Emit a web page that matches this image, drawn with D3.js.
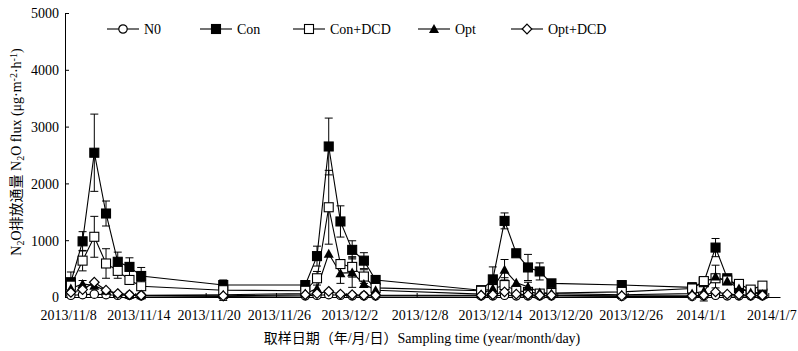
<!DOCTYPE html>
<html lang="zh">
<head>
<meta charset="utf-8">
<title>N2O flux</title>
<script src="https://d3js.org/d3.v7.min.js"></script>
<style>
  body { margin: 0; background: #fff; }
  text { font-family: "Times New Roman", "Liberation Serif", "Noto Sans CJK SC", serif; font-size: 14px; fill: #000; }
</style>
</head>
<body>
<div id="chart"></div>
<script>
// sampling dates
var dates = ["2013/11/8","2013/11/9","2013/11/10","2013/11/11","2013/11/12","2013/11/13","2013/11/14",
  "2013/11/21",
  "2013/11/28","2013/11/29","2013/11/30","2013/12/1","2013/12/2","2013/12/3","2013/12/4",
  "2013/12/13","2013/12/14","2013/12/15","2013/12/16","2013/12/17","2013/12/18","2013/12/19",
  "2013/12/25",
  "2013/12/31","2014/1/1","2014/1/2","2014/1/3","2014/1/4","2014/1/5","2014/1/6"];

// N2O flux per treatment (ug m-2 h-1)
var n0      = [30,40,50,40,30,30,20, 10, 20,30,40,30,20,20,20, 20,20,30,20,20,20,20, 10, 10,20,30,20,20,20,20];
var con     = [260,980,2540,1470,620,530,370, 210, 210,720,2650,1330,830,640,300, 120,310,1340,770,520,450,240, 210, 170,260,870,330,160,90,60];
var conDcd  = [200,640,1060,590,460,300,190, 120, 110,330,1580,580,530,360,160, 110,140,210,110,90,60,70, 90, 150,280,330,290,230,130,200];
var opt     = [150,230,200,110,60,40,30, 40, 60,150,760,420,430,230,120, 50,150,480,250,180,80,60, 40, 60,100,360,280,150,80,50];
var optDcd  = [80,130,260,120,60,40,30, 20, 40,60,100,50,40,30,30, 30,40,90,50,40,30,30, 20, 20,30,90,50,40,30,30];

// standard errors
var conErr    = [180,170,680,220,170,160,150, 0, 0,175,500,275,160,140,0, 0,220,140,0,230,150,0, 0, 0,0,160,0,0,0,0];
var conDcdErr = [0,180,360,260,130,0,0, 180, 0,120,650,0,180,120,0, 0,0,130,0,0,0,0, 0, 100,0,0,0,0,0,0];
var optErr    = [0,60,0,0,0,0,0, 0, 0,0,0,180,260,0,0, 0,0,180,0,80,0,0, 0, 0,170,200,0,0,0,0];

var xTickLabels = ["2013/11/8","2013/11/14","2013/11/20","2013/11/26","2013/12/2","2013/12/8",
  "2013/12/14","2013/12/20","2013/12/26","2014/1/1","2014/1/7"];
var yTicks = [0,1000,2000,3000,4000,5000];

var parse = d3.timeParse("%Y/%m/%d");

var series = [
  {name: "N0", values: n0, err: null, shape: "circle"},
  {name: "Con", values: con, err: conErr, shape: "squareFilled"},
  {name: "Con+DCD", values: conDcd, err: conDcdErr, shape: "squareOpen"},
  {name: "Opt", values: opt, err: optErr, shape: "triangle"},
  {name: "Opt+DCD", values: optDcd, err: null, shape: "diamond"}
];

var svg = d3.select("#chart").append("svg")
    .attr("width", 798).attr("height", 351);

var x = d3.scaleTime()
    .domain([parse("2013/11/8"), parse("2014/1/8")])
    .range([65, 780]);
var y = d3.scaleLinear().domain([0, 5000]).range([297, 13]);

// points sit in the middle of their day
function px(i) { return x(d3.timeHour.offset(parse(dates[i]), 12)); }

var serif = '"Times New Roman", "Liberation Serif", serif';

// axes
var xAxis = svg.append("g")
    .attr("transform", "translate(0,297)")
    .call(d3.axisBottom(x)
      .tickValues(xTickLabels.map(parse))
      .tickFormat(d3.timeFormat("%Y/%-m/%-d"))
      .tickSize(-4).tickSizeOuter(0));
xAxis.selectAll("text").attr("y", 23).attr("dy", null).attr("x", 3)
    .style("font-size", "14px").style("font-family", serif);
xAxis.select(".domain").attr("stroke", "#000");
xAxis.selectAll(".tick line").attr("stroke", "#000");

var yAxis = svg.append("g")
    .attr("transform", "translate(65,0)")
    .call(d3.axisLeft(y).tickValues(yTicks).tickFormat(d3.format("d"))
      .tickSize(-4).tickSizeOuter(0).tickPadding(6));
yAxis.selectAll("text").attr("dy", "0.35em")
    .style("font-size", "14px").style("font-family", serif);
yAxis.select(".domain").attr("stroke", "#000");
yAxis.selectAll(".tick line").attr("stroke", "#000");

// marker drawing
function drawMarker(g, shape, cx, cy) {
  if (shape === "circle") {
    g.append("circle").attr("cx", cx).attr("cy", cy).attr("r", 4.2)
      .attr("fill", "#fff").attr("stroke", "#000").attr("stroke-width", 1.2);
  } else if (shape === "squareFilled" || shape === "squareOpen") {
    g.append("rect").attr("x", cx - 4.5).attr("y", cy - 4.5).attr("width", 9).attr("height", 9)
      .attr("fill", shape === "squareFilled" ? "#000" : "#fff")
      .attr("stroke", "#000").attr("stroke-width", 1.1);
  } else if (shape === "triangle") {
    g.append("path").attr("transform", "translate(" + cx + "," + cy + ")")
      .attr("d", "M0,-5L5,4L-5,4Z").attr("fill", "#000");
  } else if (shape === "diamond") {
    g.append("path").attr("transform", "translate(" + cx + "," + cy + ")")
      .attr("d", "M0,-4.8L4.8,0L0,4.8L-4.8,0Z")
      .attr("fill", "#fff").attr("stroke", "#000").attr("stroke-width", 1.2);
  }
}

var line = d3.line()
    .x(function(d, i) { return px(i); })
    .y(function(d) { return y(d); });

var plot = svg.append("g");

// lines first
series.forEach(function(s) {
  plot.append("path").datum(s.values)
    .attr("fill", "none").attr("stroke", "#000").attr("stroke-width", 1.1)
    .attr("d", line);
});

// error bars
series.forEach(function(s) {
  if (!s.err) return;
  s.values.forEach(function(v, i) {
    var e = s.err[i];
    if (!e) return;
    var cx = px(i);
    var g = plot.append("g").attr("stroke", "#000").attr("stroke-width", 1);
    g.append("line").attr("x1", cx).attr("x2", cx).attr("y1", y(v + e)).attr("y2", y(v - e));
    g.append("line").attr("x1", cx - 4).attr("x2", cx + 4).attr("y1", y(v + e)).attr("y2", y(v + e));
    g.append("line").attr("x1", cx - 4).attr("x2", cx + 4).attr("y1", y(v - e)).attr("y2", y(v - e));
  });
});

// markers
series.forEach(function(s) {
  var g = plot.append("g");
  s.values.forEach(function(v, i) { drawMarker(g, s.shape, px(i), y(v)); });
});

// legend
var legendX = [107, 200, 293, 418, 511];
series.forEach(function(s, i) {
  var g = svg.append("g").attr("transform", "translate(" + legendX[i] + ",29)");
  g.append("line").attr("x1", 0).attr("x2", 32).attr("y1", 0).attr("y2", 0)
    .attr("stroke", "#000").attr("stroke-width", 1.1);
  drawMarker(g, s.shape, 16, 0);
  g.append("text").attr("x", 37).attr("y", 5).text(s.name);
});

// axis titles (sub/superscripts via dy shifts)
var yt = svg.append("text")
    .attr("transform", "translate(21,152) rotate(-90)")
    .attr("text-anchor", "middle")
    .style("font-size", "14px");
var parts = [
  ["N", 0], ["2", 3], ["O排放通量 N", -3], ["2", 3], ["O flux (μg·m", -3],
  ["-2", -4], ["·h", 4], ["-1", -4], [")", 4]
];
parts.forEach(function(p) {
  var small = (p[0] === "2" || p[0] === "-2" || p[0] === "-1");
  yt.append("tspan").attr("dy", p[1]).style("font-size", small ? "10px" : "14px").text(p[0]);
});

svg.append("text")
    .attr("x", 422).attr("y", 343)
    .attr("text-anchor", "middle")
    .text("取样日期（年/月/日）Sampling time (year/month/day)");
</script>
</body>
</html>
